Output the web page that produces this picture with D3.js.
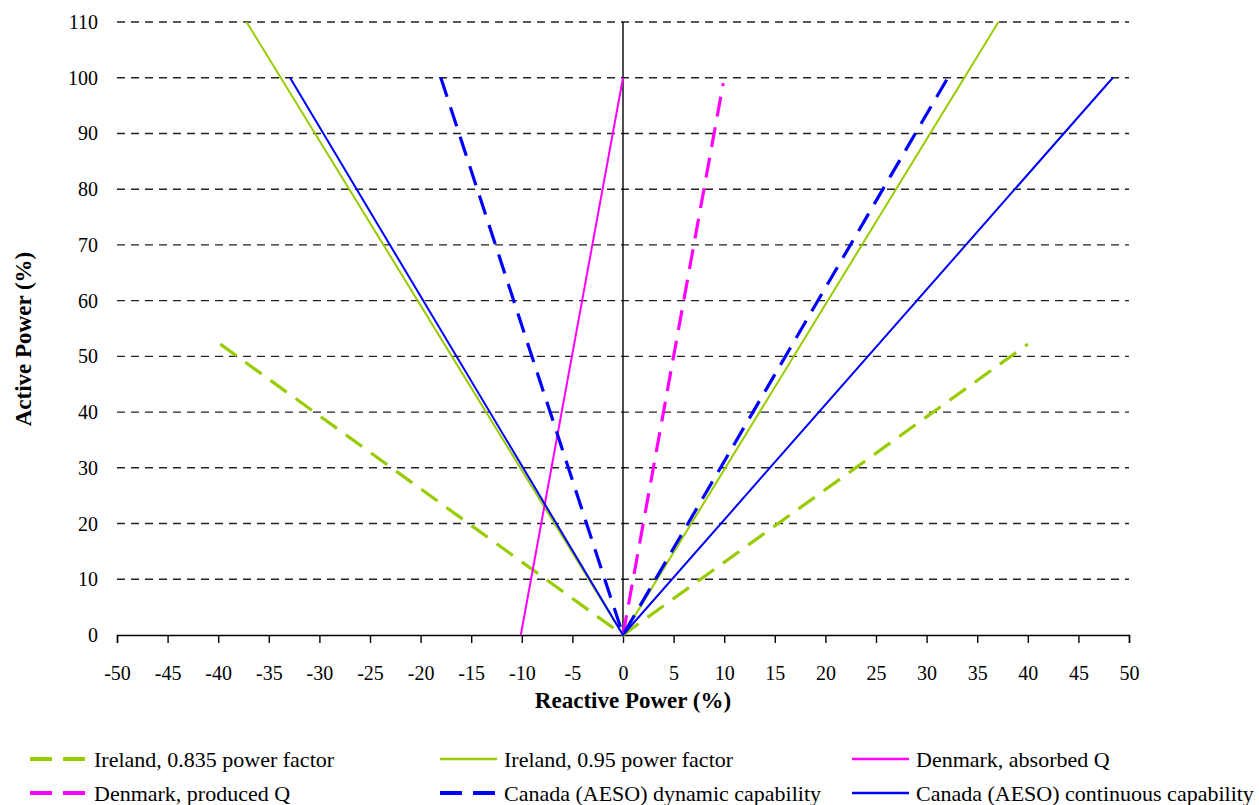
<!DOCTYPE html>
<html>
<head>
<meta charset="utf-8">
<script src="https://cdn.jsdelivr.net/npm/d3@7"></script>
<style>
  body { margin: 0; background: #fff; }
  svg { font-family: 'Liberation Serif', 'Times New Roman', serif; }
</style>
</head>
<body>
<div id="app"></div>
<script>
// series as [reactive %, active %] points
const ireland835 = [[-39.8, 52.2], [0, 0], [40, 52.2]]
const ireland95 = [[-37.2, 110], [0, 0], [37.1, 110]]
const denmarkAbsorbed = [[-10.1, 0], [0, 100]]
const denmarkProduced = [[0, 0], [9.9, 99]]
const canadaDynamic = [[-18, 100], [0, 0], [32.1, 100]]
const canadaContinuous = [[-32.9, 100], [0, 0], [48.4, 100]]

const xTicks = d3.range(-50, 51, 5)
const yTicks = d3.range(0, 111, 10)

const series = [
  { name: 'Ireland, 0.835 power factor', data: ireland835, color: '#99cc00', dashed: true },
  { name: 'Ireland, 0.95 power factor', data: ireland95, color: '#99cc00', dashed: false },
  { name: 'Denmark, absorbed Q', data: denmarkAbsorbed, color: '#ff00ff', dashed: false },
  { name: 'Denmark, produced Q', data: denmarkProduced, color: '#ff00ff', dashed: true },
  { name: 'Canada (AESO) dynamic capability', data: canadaDynamic, color: '#0000ff', dashed: true },
  { name: 'Canada (AESO) continuous capability', data: canadaContinuous, color: '#0000ff', dashed: false }
]

const w = 1259
const h = 805
const serif = "'Liberation Serif', 'Times New Roman', serif"

const x = d3.scaleLinear().domain([-50, 50]).range([117, 1129])
const y = d3.scaleLinear().domain([0, 110]).range([635, 22])

const svg = d3.select('#app').append('svg')
  .attr('width', w)
  .attr('height', h)

// horizontal dashed grid
svg.append('g')
  .selectAll('line')
  .data(yTicks.filter(d => d > 0))
  .enter()
  .append('line')
  .attr('x1', x(-50))
  .attr('x2', x(50))
  .attr('y1', d => y(d))
  .attr('y2', d => y(d))
  .attr('stroke', '#222')
  .attr('stroke-width', 1.4)
  .attr('stroke-dasharray', '8,6')

// y tick labels
svg.append('g')
  .selectAll('text')
  .data(yTicks)
  .enter()
  .append('text')
  .attr('x', 98)
  .attr('y', d => y(d))
  .attr('dy', '0.35em')
  .attr('text-anchor', 'end')
  .attr('font-size', 20)
  .text(d => d)

// x axis
const xAxis = d3.axisBottom(x)
  .tickValues(xTicks)
  .tickSize(8)
  .tickPadding(30)
  .tickFormat(d => String(d))
const gx = svg.append('g')
  .attr('transform', `translate(0, ${y(0)})`)
  .call(xAxis)
gx.attr('font-family', serif).attr('font-size', 20)
gx.select('.domain').attr('stroke', '#000').attr('stroke-width', 1.4)
gx.selectAll('.tick line').attr('stroke', '#000').attr('stroke-width', 1.4)
gx.selectAll('.tick text').attr('fill', '#000').attr('dy', '0.35em')

// vertical axis through zero
svg.append('line')
  .attr('x1', x(0)).attr('x2', x(0))
  .attr('y1', y(110)).attr('y2', y(0))
  .attr('stroke', '#000')
  .attr('stroke-width', 1.4)

// axis titles
svg.append('text')
  .attr('x', 633)
  .attr('y', 700)
  .attr('dy', '0.35em')
  .attr('text-anchor', 'middle')
  .attr('font-size', 23)
  .attr('font-weight', 'bold')
  .text('Reactive Power (%)')

svg.append('text')
  .attr('transform', 'translate(23, 339) rotate(-90)')
  .attr('dy', '0.35em')
  .attr('text-anchor', 'middle')
  .attr('font-size', 23)
  .attr('font-weight', 'bold')
  .text('Active Power (%)')

// series lines
const line = d3.line().x(d => x(d[0])).y(d => y(d[1]))

svg.append('g')
  .selectAll('path')
  .data(series)
  .enter()
  .append('path')
  .attr('d', d => line(d.data))
  .attr('fill', 'none')
  .attr('stroke', d => d.color)
  .attr('stroke-width', d => d.dashed ? 3.2 : 2)
  .attr('stroke-dasharray', d => d.dashed ? '20,11' : null)

// legend, 3 columns x 2 rows
const legendCols = [30, 440, 852]
const legendRows = [759, 793]
const legend = svg.append('g')
  .selectAll('g')
  .data(series)
  .enter()
  .append('g')
  .attr('transform', (d, i) => `translate(${legendCols[i % 3]}, ${legendRows[Math.floor(i / 3)]})`)

legend.append('line')
  .attr('x1', 0)
  .attr('x2', 57)
  .attr('y1', 0)
  .attr('y2', 0)
  .attr('stroke', d => d.color)
  .attr('stroke-width', d => d.dashed ? 4 : 2.5)
  .attr('stroke-dasharray', d => d.dashed ? '22,11' : null)

legend.append('text')
  .attr('x', 64)
  .attr('y', 0)
  .attr('dy', '0.35em')
  .attr('font-size', 22)
  .text(d => d.name)
</script>
</body>
</html>
